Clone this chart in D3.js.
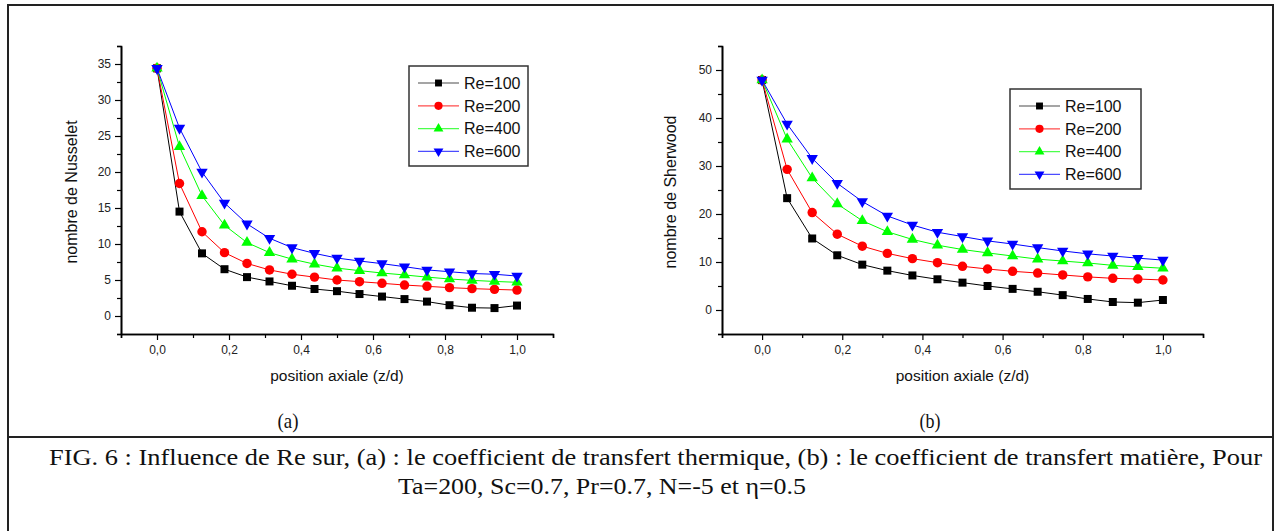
<!DOCTYPE html>
<html>
<head>
<meta charset="utf-8">
<script src="https://cdn.jsdelivr.net/npm/d3@7"></script>
<style>
  body { margin: 0; background: #fff; }
  svg text { font-family: "Liberation Sans", Arial, sans-serif; }
  svg text.serif { font-family: "Liberation Serif", "Times New Roman", serif; }
</style>
</head>
<body>
<div id="fig"></div>
<script>
// axial positions (z/d)
var zd = [0, 0.0625, 0.125, 0.1875, 0.25, 0.3125, 0.375, 0.4375, 0.5, 0.5625, 0.625, 0.6875, 0.75, 0.8125, 0.875, 0.9375, 1.0]

// Nusselt number, panel (a)
var nuRe100 = [34.4, 14.5, 8.7, 6.5, 5.4, 4.8, 4.2, 3.75, 3.45, 3.05, 2.7, 2.35, 2.0, 1.5, 1.15, 1.1, 1.45]
var nuRe200 = [34.4, 18.4, 11.7, 8.8, 7.3, 6.4, 5.8, 5.4, 5.0, 4.77, 4.54, 4.3, 4.12, 3.94, 3.8, 3.7, 3.6]
var nuRe400 = [34.4, 23.5, 16.7, 12.6, 10.2, 8.8, 7.9, 7.2, 6.65, 6.3, 5.97, 5.7, 5.4, 5.14, 4.95, 4.8, 4.68]
var nuRe600 = [34.4, 26.1, 20.0, 15.7, 12.8, 10.8, 9.5, 8.7, 8.05, 7.64, 7.27, 6.85, 6.4, 6.15, 5.9, 5.8, 5.55]

// Sherwood number, panel (b)
var shRe100 = [47.9, 23.3, 14.9, 11.4, 9.45, 8.2, 7.2, 6.4, 5.7, 5.0, 4.4, 3.8, 3.1, 2.3, 1.67, 1.53, 2.08]
var shRe200 = [47.9, 29.3, 20.3, 15.8, 13.3, 11.8, 10.7, 9.86, 9.1, 8.54, 8.06, 7.7, 7.3, 6.9, 6.6, 6.46, 6.25]
var shRe400 = [47.9, 35.6, 27.5, 22.1, 18.6, 16.3, 14.7, 13.5, 12.6, 11.9, 11.25, 10.6, 10.2, 9.8, 9.3, 9.0, 8.7]
var shRe600 = [47.9, 38.75, 31.6, 26.4, 22.6, 19.6, 17.7, 16.2, 15.3, 14.4, 13.75, 13.0, 12.3, 11.7, 11.25, 10.8, 10.4]

var seriesNames = ["Re=100", "Re=200", "Re=400", "Re=600"]
var seriesColors = ["#000000", "#ff0000", "#00ff00", "#0000ff"]
var seriesSymbols = [d3.symbolSquare, d3.symbolCircle, d3.symbolTriangle, "down"]

var xTicks = [0, 0.2, 0.4, 0.6, 0.8, 1.0]
var xMinor = [-0.1, 0.1, 0.3, 0.5, 0.7, 0.9, 1.1]
var nuTicks = [0, 5, 10, 15, 20, 25, 30, 35]
var nuMinor = [-2.5, 2.5, 7.5, 12.5, 17.5, 22.5, 27.5, 32.5, 37.5]
var shTicks = [0, 10, 20, 30, 40, 50]
var shMinor = [-5, 5, 15, 25, 35, 45, 55]

var W = 1280, H = 531
var svg = d3.select("#fig").append("svg").attr("width", W).attr("height", H)

// frame of the figure
svg.append("rect").attr("x", 8).attr("y", 5).attr("width", 1265).attr("height", 560)
  .attr("fill", "none").attr("stroke", "#222").attr("stroke-width", 2)
svg.append("line").attr("x1", 8).attr("x2", 1273).attr("y1", 437).attr("y2", 437)
  .attr("stroke", "#222").attr("stroke-width", 2)

var commaFmt = function(d) { return d3.format(".1f")(d).replace(".", ",") }

function marker(sym, size) {
  if (sym === "down") {
    return d3.symbol().type(d3.symbolTriangle).size(size)()
  }
  return d3.symbol().type(sym).size(size)()
}
var markSize = [64, 70, 56, 56]

function drawPanel(opt) {
  var x = d3.scaleLinear().domain([-0.1, 1.1]).range([opt.left, opt.right])
  var y = d3.scaleLinear().domain(opt.ydom).range([334, 46])
  var g = svg.append("g")

  // minor ticks
  g.append("g").attr("transform", "translate(0,334)")
    .call(d3.axisBottom(x).tickValues(xMinor).tickSize(4).tickFormat(""))
  g.append("g").attr("transform", "translate(" + opt.left + ",0)")
    .call(d3.axisLeft(y).tickValues(opt.minor).tickSize(4).tickFormat(""))

  // major ticks
  g.append("g").attr("transform", "translate(0,334)")
    .call(d3.axisBottom(x).tickValues(xTicks).tickSize(6).tickSizeOuter(0).tickPadding(5).tickFormat(commaFmt))
  g.append("g").attr("transform", "translate(" + opt.left + ",0)")
    .call(d3.axisLeft(y).tickValues(opt.ticks).tickSize(6).tickSizeOuter(0).tickPadding(4).tickFormat(d3.format("d")))

  g.selectAll(".domain").attr("stroke", "#000").attr("stroke-width", 1.6)
  g.selectAll(".tick line").attr("stroke", "#000").attr("stroke-width", 1.2)
  g.selectAll(".tick text").attr("font-size", 12).attr("fill", "#222")

  // titles
  g.append("text").attr("x", (opt.left + opt.right) / 2).attr("y", 381)
    .attr("text-anchor", "middle").attr("font-size", 15.5).attr("fill", "#111")
    .text("position axiale (z/d)")
  g.append("text").attr("transform", "translate(" + opt.ytx + ",192) rotate(-90)")
    .attr("text-anchor", "middle").attr("font-size", 16).attr("fill", "#111")
    .text(opt.ytitle)

  // series
  var line = d3.line().x(function(d) { return x(d[0]) }).y(function(d) { return y(d[1]) })
  opt.series.forEach(function(vals, i) {
    var pts = zd.map(function(z, k) { return [z, vals[k]] })
    g.append("path").datum(pts).attr("d", line)
      .attr("fill", "none").attr("stroke", seriesColors[i]).attr("stroke-width", 1)
    g.selectAll(null).data(pts).enter().append("path")
      .attr("d", marker(seriesSymbols[i], markSize[i]))
      .attr("transform", function(d) {
        return "translate(" + x(d[0]) + "," + y(d[1]) + ")" + (seriesSymbols[i] === "down" ? " rotate(180)" : "")
      })
      .attr("fill", seriesColors[i])
  })

  // legend
  var lg = g.append("g").attr("transform", "translate(" + opt.lx + "," + opt.ly + ")")
  lg.append("rect").attr("width", opt.lw).attr("height", 100)
    .attr("fill", "#fff").attr("stroke", "#333").attr("stroke-width", 1.5)
  seriesNames.forEach(function(name, i) {
    var cy = 17 + i * 22.8
    lg.append("line").attr("x1", 9).attr("x2", 50).attr("y1", cy).attr("y2", cy)
      .attr("stroke", seriesColors[i]).attr("stroke-opacity", 0.7).attr("stroke-width", 1.2)
    lg.append("path").attr("d", marker(seriesSymbols[i], markSize[i] * 0.75))
      .attr("transform", "translate(29.5," + cy + ")" + (seriesSymbols[i] === "down" ? " rotate(180)" : ""))
      .attr("fill", seriesColors[i])
    lg.append("text").attr("x", 55).attr("y", cy).attr("dy", "0.36em")
      .attr("font-size", 16).attr("fill", "#111").text(name)
  })

  // panel label
  svg.append("text").attr("class", "serif").attr("x", opt.labx).attr("y", 421).attr("dy", "0.35em")
    .attr("text-anchor", "middle").attr("font-size", 21).attr("fill", "#111")
    .attr("textLength", 21).attr("lengthAdjust", "spacingAndGlyphs")
    .text(opt.label)
}

drawPanel({
  left: 121, right: 553, ydom: [-2.5, 37.5], ticks: nuTicks, minor: nuMinor,
  ytitle: "nombre de Nusselet", ytx: 77,
  series: [nuRe100, nuRe200, nuRe400, nuRe600],
  lx: 409, ly: 66, lw: 119, label: "(a)", labx: 288
})

drawPanel({
  left: 722, right: 1203, ydom: [-5, 55], ticks: shTicks, minor: shMinor,
  ytitle: "nombre de Sherwood", ytx: 676,
  series: [shRe100, shRe200, shRe400, shRe600],
  lx: 1010, ly: 89, lw: 131, label: "(b)", labx: 930
})

// caption (the source text is a little wider than the serif font's natural width)
svg.append("text").attr("class", "serif").attr("x", 49).attr("y", 465)
  .attr("font-size", 23.5).attr("fill", "#111")
  .attr("textLength", 1213).attr("lengthAdjust", "spacingAndGlyphs")
  .text("FIG. 6 : Influence de Re sur, (a) : le coefficient de transfert thermique, (b) : le coefficient de transfert matière, Pour")
svg.append("text").attr("class", "serif").attr("x", 398).attr("y", 494)
  .attr("font-size", 23.5).attr("fill", "#111")
  .attr("textLength", 408).attr("lengthAdjust", "spacingAndGlyphs")
  .text("Ta=200, Sc=0.7, Pr=0.7, N=-5 et η=0.5")
</script>
</body>
</html>
